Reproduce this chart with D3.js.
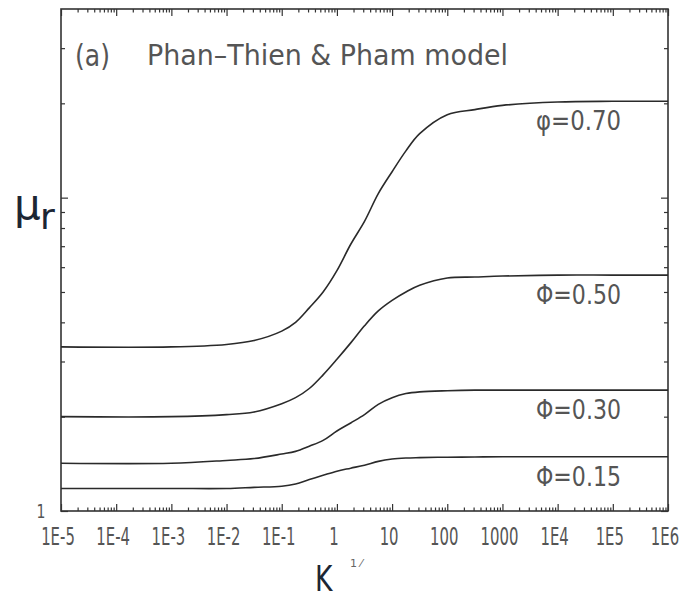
<!DOCTYPE html>
<html>
<head>
<meta charset="utf-8">
<script src="https://cdn.jsdelivr.net/npm/d3@7"></script>
<style>
  html, body { margin: 0; padding: 0; background: #fff; }
  svg { display: block; }
  text { font-family: "DejaVu Sans", sans-serif; }
</style>
</head>
<body>
<svg id="chart" width="686" height="601"></svg>
<script>
// Relative viscosity vs. K for several solid fractions (Phan-Thien & Pham model)
const kValues = [1e-5, 1e-3, 1e-2, 0.0316, 0.1, 0.178, 0.316, 0.562, 1, 1.78, 3.16,
                 5.62, 10, 17.8, 31.6, 100, 316, 1000, 1e4, 1e5, 1e6];
const mu070 = [3.34, 3.34, 3.40, 3.50, 3.75, 4.00, 4.45, 5.00, 5.85, 7.10, 8.40,
               10.3, 12.1, 14.1, 16.0, 18.4, 19.1, 19.7, 20.2, 20.3, 20.3];
const mu050 = [2.00, 2.00, 2.03, 2.07, 2.20, 2.30, 2.46, 2.72, 3.05, 3.44, 3.90,
               4.35, 4.70, 5.00, 5.25, 5.54, 5.58, 5.62, 5.66, 5.66, 5.66];
const mu030 = [1.42, 1.42, 1.45, 1.47, 1.52, 1.55, 1.61, 1.68, 1.80, 1.91, 2.03,
               2.19, 2.30, 2.37, 2.40, 2.42, 2.43, 2.43, 2.43, 2.43, 2.43];
const mu015 = [1.18, 1.18, 1.18, 1.19, 1.20, 1.22, 1.26, 1.30, 1.34, 1.37, 1.40,
               1.44, 1.465, 1.476, 1.48, 1.485, 1.487, 1.49, 1.49, 1.49, 1.49];
const seriesLabels = ["\u03C6=0.70", "\u03A6=0.50", "\u03A6=0.30", "\u03A6=0.15"];
const xTickLabels = ["1E-5", "1E-4", "1E-3", "1E-2", "1E-1", "1", "10", "100", "1000", "1E4", "1E5", "1E6"];
const xMajorTicks = [1e-5, 1e-4, 1e-3, 1e-2, 1e-1, 1, 10, 100, 1000, 1e4, 1e5, 1e6];
const yMajorTicks = [1, 10];
const yMinorTicks = [2, 3, 4, 5, 6, 7, 8, 9, 20, 30];
const yTickLabels = ["1"];

const series = [mu070, mu050, mu030, mu015];

const svg = d3.select("#chart");
const plotLeft = 61, plotRight = 668, plotTop = 9, plotBottom = 511;
const ink = "#333";

const x = d3.scaleLog().domain([1e-5, 1e6]).range([plotLeft, plotRight]);
const y = d3.scaleLog().domain([1, 40]).range([plotBottom, plotTop]);

// minor x ticks: 2..9 within each decade
const xMinorTicks = [];
xMajorTicks.slice(0, -1).forEach(d => { for (let m = 2; m <= 9; m++) xMinorTicks.push(d * m); });

function styleAxis(g) {
  g.select(".domain").remove();
  g.selectAll(".tick line").attr("stroke", ink).attr("stroke-width", 1.2);
  g.selectAll(".tick text").remove();
}

// inward-pointing ticks on all four sides
svg.append("g").attr("transform", `translate(0,${plotBottom})`)
  .call(d3.axisBottom(x).tickValues(xMajorTicks).tickSize(-7)).call(styleAxis);
svg.append("g").attr("transform", `translate(0,${plotBottom})`)
  .call(d3.axisBottom(x).tickValues(xMinorTicks).tickSize(-3.5)).call(styleAxis);
svg.append("g").attr("transform", `translate(0,${plotTop})`)
  .call(d3.axisTop(x).tickValues(xMajorTicks).tickSize(-7)).call(styleAxis);
svg.append("g").attr("transform", `translate(0,${plotTop})`)
  .call(d3.axisTop(x).tickValues(xMinorTicks).tickSize(-3.5)).call(styleAxis);
svg.append("g").attr("transform", `translate(${plotLeft},0)`)
  .call(d3.axisLeft(y).tickValues(yMajorTicks).tickSize(-7)).call(styleAxis);
svg.append("g").attr("transform", `translate(${plotLeft},0)`)
  .call(d3.axisLeft(y).tickValues(yMinorTicks).tickSize(-4)).call(styleAxis);
svg.append("g").attr("transform", `translate(${plotRight},0)`)
  .call(d3.axisRight(y).tickValues(yMajorTicks).tickSize(-7)).call(styleAxis);
svg.append("g").attr("transform", `translate(${plotRight},0)`)
  .call(d3.axisRight(y).tickValues(yMinorTicks).tickSize(-4)).call(styleAxis);

// frame
svg.append("rect")
  .attr("x", plotLeft).attr("y", plotTop)
  .attr("width", plotRight - plotLeft).attr("height", plotBottom - plotTop)
  .attr("fill", "none").attr("stroke", ink).attr("stroke-width", 1.6);

// x tick labels
svg.append("g").selectAll("text").data(xMajorTicks).join("text")
  .attr("transform", d => `translate(${x(d) - 3},545) scale(0.62,1)`)
  .attr("text-anchor", "middle")
  .attr("font-size", 24)
  .attr("fill", "#555")
  .text((d, i) => xTickLabels[i]);

// y tick label
svg.append("text")
  .attr("transform", `translate(41,518) scale(0.7,1)`)
  .attr("text-anchor", "middle")
  .attr("font-size", 20)
  .attr("fill", "#555")
  .text(yTickLabels[0]);

// curves
const line = d3.line()
  .x((d, i) => x(kValues[i]))
  .y(d => y(d))
  .curve(d3.curveCatmullRom.alpha(0.5));

svg.append("g").selectAll("path").data(series).join("path")
  .attr("d", d => line(d))
  .attr("fill", "none")
  .attr("stroke", "#2a2a2a")
  .attr("stroke-width", 1.6);

// series labels below each upper plateau
svg.append("g").selectAll("text").data(series).join("text")
  .attr("x", 536)
  .attr("y", d => y(d[d.length - 1]) + 29)
  .attr("font-size", 26)
  .attr("fill", "#555")
  .attr("textLength", 85)
  .attr("lengthAdjust", "spacingAndGlyphs")
  .text((d, i) => seriesLabels[i]);

// panel title
svg.append("text")
  .attr("x", 75).attr("y", 66)
  .attr("font-size", 30).attr("fill", "#555")
  .attr("textLength", 35).attr("lengthAdjust", "spacingAndGlyphs")
  .text("(a)");
svg.append("text")
  .attr("x", 147).attr("y", 65)
  .attr("font-size", 29).attr("fill", "#555")
  .attr("textLength", 361).attr("lengthAdjust", "spacingAndGlyphs")
  .text("Phan\u2013Thien & Pham model");

// axis titles
svg.append("text")
  .attr("x", 14).attr("y", 219)
  .attr("font-size", 42).attr("fill", "#1c2633")
  .attr("font-family", "Liberation Sans, sans-serif")
  .text("\u03BC");
svg.append("text")
  .attr("x", 40).attr("y", 229)
  .attr("font-size", 36).attr("fill", "#1c2633")
  .attr("font-family", "Liberation Sans, sans-serif")
  .text("r");

svg.append("text")
  .attr("transform", "translate(315,591) scale(0.76,1)")
  .attr("font-size", 35).attr("fill", "#1c2633")
  .attr("font-family", "Liberation Sans, sans-serif")
  .text("K");
svg.append("text")
  .attr("x", 350).attr("y", 567)
  .attr("font-size", 11).attr("fill", "#666")
  .text("1 \u2044");
</script>
</body>
</html>
